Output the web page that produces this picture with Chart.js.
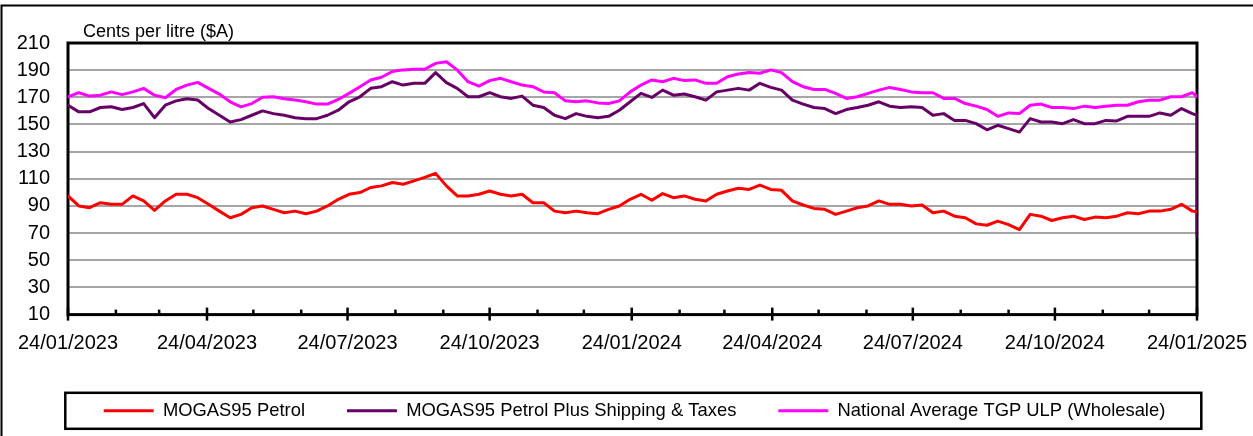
<!DOCTYPE html>
<html>
<head>
<meta charset="utf-8">
<script src="https://cdn.jsdelivr.net/npm/chart.js"></script>
<style>
html,body{margin:0;padding:0;background:#fff;}
#wrap{width:1253px;height:436px;}
</style>
</head>
<body>
<div id="wrap"><canvas id="c" width="1253" height="436"></canvas></div>
<script>
// ---------- DATA ----------
const startDate = '2023-01-24';
const endDate = '2025-01-24';
const yCaption = 'Cents per litre ($A)';
const quarterLabels = ['24/01/2023','24/04/2023','24/07/2023','24/10/2023','24/01/2024','24/04/2024','24/07/2024','24/10/2024','24/01/2025'];
const yTicks = [10,30,50,70,90,110,130,150,170,190,210];
const seriesNames = ['MOGAS95 Petrol','MOGAS95 Petrol Plus Shipping & Taxes','National Average TGP ULP (Wholesale)'];

// weekly readings from 24/01/2023, last reading 24/01/2025
const mogas95 = [
  97.4,90,88.7,92.4,91.2,91.2,97.4,93.7,86.7,93.7,98.6,98.6,96.1,91.2,86.2,81.3,83.8,88.7,90,87.5,85,86.2,84.3,86.2,90,94.9,98.6,99.9,103.6,104.8,107.3,106,108.5,
  111,114,104.8,97.4,97.4,98.6,101,98.6,97.4,98.6,92.4,92.4,86.2,85,86.2,85,84.3,87.5,90,94.9,98.6,94.2,99.1,96.1,97.4,94.9,93.7,98.6,101,103,102.2,105.4,102.2,101.5,93.7,90.7,88.2,
  87.5,83.8,86.2,88.7,90,93.7,91.2,91.2,90,90.7,85,86.2,82.5,81.3,76.8,75.8,78.8,76.3,72.6,83.8,82.5,79.3,81.3,82.5,80,81.8,81.3,82.5,85,84.3,86.2,86.2,87.5,91.2,86.2,
  85.7
];
const mogas95Shipping = [
  164.2,159.3,159.3,162.5,163,161,162.5,165.4,155,164.2,167.4,169,168,161.7,156.8,151.8,153.6,156.8,160,158,156.8,155,154.3,154.3,156.8,160.5,166.7,170.4,176.6,177.8,181.5,179,180.3,
  180.3,188.2,180.8,176.6,170.4,170.4,173.4,170.4,169.2,170.9,164.2,162.5,156.8,154.3,158,156,155,156,160.5,166.7,172.9,169.9,175.3,171.6,172.4,170.4,167.9,174,175.3,176.6,175.3,180.3,177.3,175.3,167.9,165,162.5,
  161.7,158,161,162.5,164.2,166.7,163.5,162.5,163,162.5,156.8,158,153,153,150.6,146.1,149.4,146.9,144.4,154.3,151.8,151.8,150.6,153.6,150.6,150.6,153,152.6,156,156,156,158.5,156.8,161.7,158,
  156.8
];
const mogas95ShippingFinalDrop = 68;
const nationalTgp = [
  170.4,173.4,170.9,171.6,174,172,174,176.6,171.6,169.7,175.8,179,181,176.6,172.4,166.7,163,165.4,170,170.4,169,168,166.7,165,165,168.4,172.9,177.8,182.8,184.8,189,190.2,190.7,
  190.7,195,196.2,190.2,181.5,178.3,182.3,184,181.5,179,177.8,174,173.4,167.4,166.7,167.4,165.9,165.4,167.4,174,179,182.8,181.5,184,182.3,182.8,180.3,180.3,185.2,187.2,188.2,187.7,190.2,188.2,181.5,177.8,175.8,
  175.8,172.9,169.2,170.4,172.9,175.3,177.3,175.8,174,173.4,173.4,169.2,169.2,165.4,163.5,161,156,158.5,158,164.2,165,162.5,162.5,161.7,163.5,162.5,163.5,164.2,164.2,166.7,167.9,167.9,170.4,170.4,173.4,
  170.4
];

// ---------- helpers ----------
const DAY = 86400000;
const t0 = Date.parse(startDate + 'T00:00:00Z');
const tEnd = Date.parse(endDate + 'T00:00:00Z');
const totalDays = (tEnd - t0) / DAY;
const sampleDays = [];
for (let k = 0; k < mogas95.length - 1; k++) sampleDays.push(k * 7);
sampleDays.push(totalDays);
function dmyToDay(s){ const [d,m,y] = s.split('/').map(Number); return (Date.UTC(y, m-1, d) - t0) / DAY; }
const quarterDays = quarterLabels.map(dmyToDay);
const monthDays = [];
for (let m = 0; m <= 24; m++) monthDays.push((Date.UTC(2023, m, 24) - t0) / DAY);

function pts(arr){ return arr.map((v,i)=>({x: sampleDays[i], y: v})); }
const purplePts = pts(mogas95Shipping);
purplePts.push({x: totalDays, y: mogas95ShippingFinalDrop});

const FONT = "'Liberation Sans', Arial, Helvetica, sans-serif";

const decor = {
  id: 'decor',
  afterLayout(chart){
    const lg = chart.legend;
    if (lg) { lg.left += 36; lg.right += 36; }
  },
  beforeDraw(chart){
    const ctx = chart.ctx;
    ctx.save();
    ctx.fillStyle = '#fff';
    ctx.fillRect(0,0,chart.width,chart.height);
    ctx.strokeStyle = '#000';
    ctx.lineWidth = 2;
    ctx.strokeRect(1.5, 5.5, chart.width + 20, chart.height + 20);
    ctx.fillStyle = '#000';
    ctx.font = '18px ' + FONT;
    ctx.textAlign = 'left';
    ctx.textBaseline = 'alphabetic';
    ctx.fillText(yCaption, 83, 36.5);
    ctx.lineWidth = 2.5;
    ctx.strokeRect(65.3, 392.8, 1136, 36);
    ctx.restore();
  },
  beforeDatasetsDraw(chart){
    const ctx = chart.ctx, a = chart.chartArea, xs = chart.scales.x;
    ctx.save();
    ctx.strokeStyle = '#000';
    ctx.lineWidth = 3;
    ctx.strokeRect(a.left, a.top, a.right - a.left, a.bottom - a.top);
    ctx.lineWidth = 2.5;
    monthDays.forEach((d, i) => {
      const x = xs.getPixelForValue(d);
      ctx.beginPath();
      if (i % 3 === 0) { ctx.moveTo(x, a.bottom - 7); ctx.lineTo(x, a.bottom + 6); }
      else { ctx.moveTo(x, a.bottom - 5); ctx.lineTo(x, a.bottom); }
      ctx.stroke();
    });
    ctx.restore();
  }
};

new Chart(document.getElementById('c'), {
  type: 'line',
  data: {
    datasets: [
      { label: seriesNames[0], data: pts(mogas95), borderColor: '#ff0000', backgroundColor: '#ff0000' },
      { label: seriesNames[1], data: purplePts, borderColor: '#660066', backgroundColor: '#660066' },
      { label: seriesNames[2], data: pts(nationalTgp), borderColor: '#ff00ff', backgroundColor: '#ff00ff' }
    ]
  },
  options: {
    responsive: false,
    animation: false,
    devicePixelRatio: 1,
    layout: { padding: { left: 0, right: 56, top: 43, bottom: 6 } },
    elements: {
      line: { borderWidth: 3, tension: 0, borderJoinStyle: 'round', borderCapStyle: 'round' },
      point: { radius: 0, hoverRadius: 0 }
    },
    plugins: {
      tooltip: { enabled: false },
      title: { display: false },
      legend: {
        position: 'bottom',
        labels: {
          font: { family: FONT, size: 18.4 },
          color: '#000',
          boxWidth: 50,
          boxHeight: 3,
          padding: 42,
          generateLabels(chart){
            return Chart.defaults.plugins.legend.labels.generateLabels(chart).map(l => Object.assign(l, { lineWidth: 0, fillStyle: l.strokeStyle }));
          }
        }
      }
    },
    scales: {
      x: {
        type: 'linear',
        min: 0,
        max: totalDays,
        afterFit(s){ s.height = 45; s.paddingLeft = 0; s.paddingRight = 0; },
        afterBuildTicks(s){ s.ticks = quarterDays.map(v => ({ value: v })); },
        grid: { display: false },
        border: { display: false },
        ticks: {
          autoSkip: false,
          maxRotation: 0,
          padding: 9,
          color: '#000',
          font: { family: FONT, size: 20 }
        , callback(v){ const i = quarterDays.indexOf(v); return i >= 0 ? quarterLabels[i] : ''; }
        }
      },
      y: {
        min: 10,
        max: 210,
        afterFit(s){ s.width = 68; },
        afterBuildTicks(s){ s.ticks = yTicks.map(v => ({ value: v })); },
        grid: { color: '#a6a6a6', lineWidth: 2, drawTicks: false },
        border: { display: false },
        ticks: {
          padding: 18,
          color: '#000',
          font: { family: FONT, size: 20 }
        }
      }
    }
  },
  plugins: [decor]
});
</script>
</body>
</html>
